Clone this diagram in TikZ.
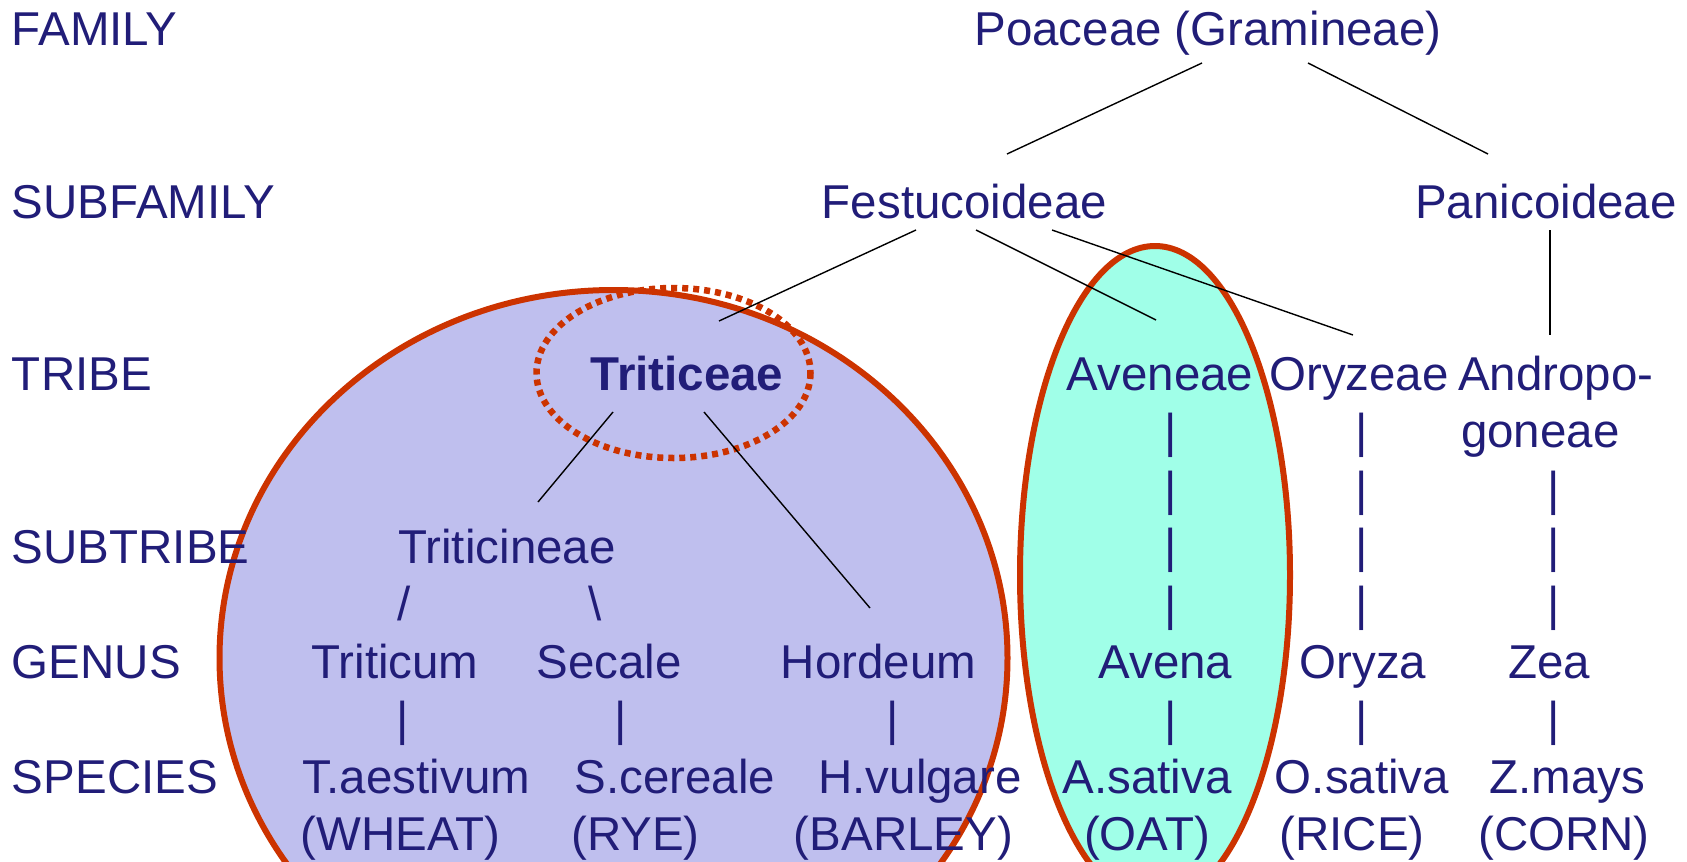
\documentclass[tikz,border=0pt]{standalone}
\usepackage{fontspec}
\setmainfont{Liberation Sans}
\definecolor{navy}{RGB}{33,29,120}
\definecolor{lav}{RGB}{191,191,238}
\definecolor{aqua}{RGB}{160,255,232}
\definecolor{redline}{RGB}{204,51,0}
\tikzset{
  txt/.style={inner sep=0pt, outer sep=0pt, text=navy, font=\fontsize{47.5}{57}\selectfont, anchor=base},
  lbl/.style={txt, anchor=base west},
  conn/.style={draw=black, line width=1.4pt},
  ring/.style={draw=redline, line width=6pt},
}
\begin{document}
\begin{tikzpicture}[x=1pt,y=-1pt]
\useasboundingbox (0,0) rectangle (1687,862);
\clip (0,0) rectangle (1687,862);
% ellipses
\path[ring, fill=lav] (613.5,658) ellipse [x radius=394, y radius=368];
\path[ring, fill=aqua] (1155,575) ellipse [x radius=135, y radius=329];
\path[draw=redline, line width=6.5pt, dash pattern=on 6pt off 5pt] (673.5,373) ellipse [x radius=137, y radius=85];
% row labels
\node[lbl] (lfam) at (12,45) {FAMILY};
\node[lbl] (lsubfam) at (12,218) {SUBFAMILY};
\node[lbl] (ltribe) at (12,390) {TRIBE};
\node[lbl] (lsubtribe) at (12,563) {SUBTRIBE};
\node[lbl] (lgenus) at (12,678) {GENUS};
\node[lbl] (lspecies) at (12,793) {SPECIES};
% tree
\node[txt] (poa) at (1208,45) {Poaceae (Gramineae)};
\node[txt] (fes) at (964.5,218) {Festucoideae};
\node[txt] (pan) at (1546,218) {Panicoideae};
\node[txt, font=\fontsize{47.5}{57}\selectfont\bfseries] (tri) at (687,390) {Triticeae};
\node[txt] (ave) at (1160,390) {Aveneae};
\node[txt] (ory) at (1359,390) {Oryzeae};
\node[lbl] (andA) at (1458,390) {Andropo-};
\node[lbl] (andB) at (1461,447.5) {goneae};
\node[txt] (trn) at (507,563) {Triticineae};
\node[txt] (slA) at (404,620.5) {/};
\node[txt] (slB) at (595.5,620.5) {\textbackslash};
\node[txt] (gTri) at (395,678) {Triticum};
\node[txt] (gSec) at (609,678) {Secale};
\node[txt] (gHor) at (878.5,678) {Hordeum};
\node[txt] (gAve) at (1165.5,678) {Avena};
\node[txt] (gOry) at (1363,678) {Oryza};
\node[txt] (gZea) at (1549,678) {Zea};
% bars genus -> species
\foreach \x/\n in {403/a,621/b,893/c,1171/d,1362/e,1554/f}
  \node[txt] (bar\n) at (\x,735.5) {|};
% bars tribe -> genus
\foreach \y/\n in {447.5/1,505/2,562.5/3,620/4}{
  \node[txt] (barAve\n) at (1171,\y) {|};
  \node[txt] (barOry\n) at (1362,\y) {|};
}
\foreach \y/\n in {505/2,562.5/3,620/4}
  \node[txt] (barZea\n) at (1554,\y) {|};
% species
\node[txt] (sTri) at (416.5,793) {T.aestivum};
\node[txt] (sSec) at (675,793) {S.cereale};
\node[txt] (sHor) at (920,793) {H.vulgare};
\node[txt] (sAve) at (1147,793) {A.sativa};
\node[txt] (sOry) at (1362,793) {O.sativa};
\node[txt] (sZea) at (1567.5,793) {Z.mays};
\node[txt] (cTri) at (400.5,850.5) {(WHEAT)};
\node[txt] (cSec) at (635.5,850.5) {(RYE)};
\node[txt] (cHor) at (903.5,850.5) {(BARLEY)};
\node[txt] (cAve) at (1147,850.5) {(OAT)};
\node[txt] (cOry) at (1352,850.5) {(RICE)};
\node[txt] (cZea) at (1564,850.5) {(CORN)};
% connector end points
\coordinate (poaL) at (1202,63);
\coordinate (poaR) at (1308,63);
\coordinate (fesT) at (1007,154);
\coordinate (panT) at (1488,154);
\coordinate (fesA) at (916,230);
\coordinate (fesB) at (976,230);
\coordinate (fesC) at (1052,230);
\coordinate (triT) at (719,321);
\coordinate (aveT) at (1156,320);
\coordinate (oryT) at (1353,335);
\coordinate (panB) at (1550,230);
\coordinate (andT) at (1550,335);
\coordinate (triA) at (613,412);
\coordinate (triB) at (704,412);
\coordinate (trnT) at (538,502);
\coordinate (horT) at (870,608);
\draw[conn] (poaL) -- (fesT);
\draw[conn] (poaR) -- (panT);
\draw[conn] (fesA) -- (triT);
\draw[conn] (fesB) -- (aveT);
\draw[conn] (fesC) -- (oryT);
\draw[conn] (panB) -- (andT);
\draw[conn] (triA) -- (trnT);
\draw[conn] (triB) -- (horT);
\end{tikzpicture}
\end{document}
